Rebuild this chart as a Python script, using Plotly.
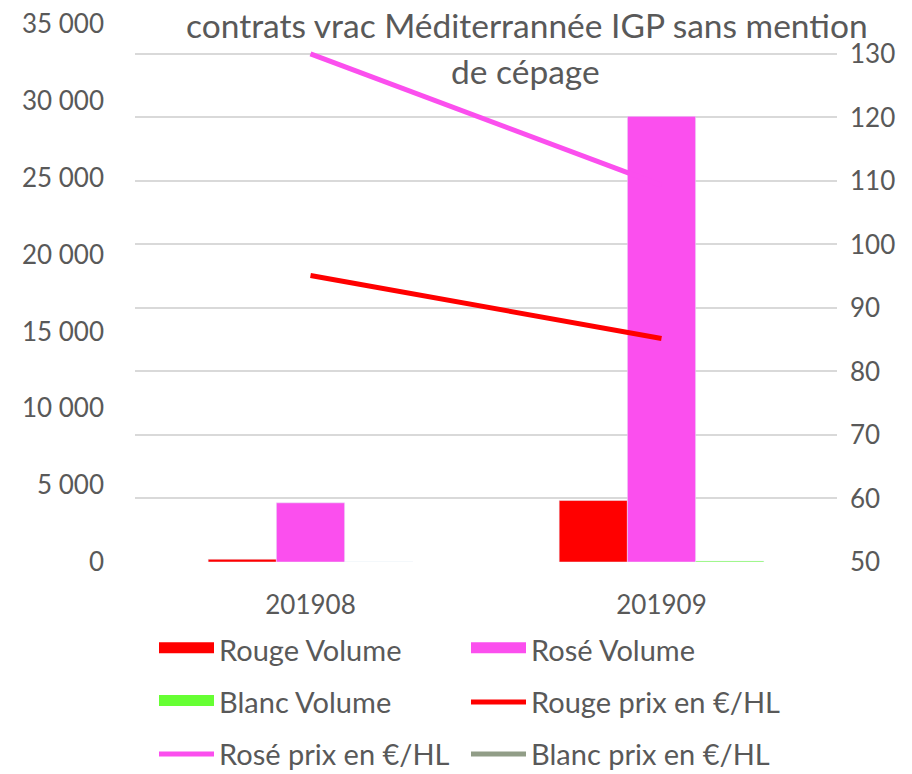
import plotly.graph_objects as go

months = ["201908", "201909"]
rouge_volume = [180, 4000]
rose_volume = [3850, 29000]
blanc_volume = [0, 60]
rouge_prix = [95.1, 85.2]
rose_prix = [130.0, 109.3]
blanc_prix = [None, None]

left_ticks = [0, 5000, 10000, 15000, 20000, 25000, 30000, 35000]
left_labels = ["0", "5 000", "10 000", "15 000", "20 000", "25 000", "30 000", "35 000"]
right_ticks = [50, 60, 70, 80, 90, 100, 110, 120, 130]

RED = "#FF0000"
PINK = "#FB4FEE"
GREEN = "#66FF33"
GREY = "#919D87"
TXT = "#595959"
FONT = "Lato"

# page body has an 8px margin: figure pixel = screen pixel - 8
OFF = 8
W, H = 912 - OFF, 774 - OFF

fig = go.Figure()
fig.add_trace(go.Bar(x=months, y=rouge_volume, name="Rouge Volume", marker_color=RED, showlegend=False))
fig.add_trace(go.Bar(x=months, y=rose_volume, name="Rosé Volume", marker_color=PINK, showlegend=False))
fig.add_trace(go.Bar(x=months, y=blanc_volume, name="Blanc Volume", marker_color=GREEN, showlegend=False))
fig.add_trace(go.Scatter(x=months, y=rouge_prix, name="Rouge prix en €/HL", mode="lines",
                         line=dict(color=RED, width=5), yaxis="y2", showlegend=False))
fig.add_trace(go.Scatter(x=months, y=rose_prix, name="Rosé prix en €/HL", mode="lines",
                         line=dict(color=PINK, width=5), yaxis="y2", showlegend=False))
fig.add_trace(go.Scatter(x=months, y=blanc_prix, name="Blanc prix en €/HL", mode="lines",
                         line=dict(color=GREY, width=5), yaxis="y2", showlegend=False))

# legend proxies (bars get a thick block swatch, lines a thin one), one legend box per entry
legend_items = [
    ("Rouge Volume", RED, True),
    ("Rosé Volume", PINK, True),
    ("Blanc Volume", GREEN, True),
    ("Rouge prix en €/HL", RED, False),
    ("Rosé prix en €/HL", PINK, False),
    ("Blanc prix en €/HL", GREY, False),
]

top_px = 23.5 - OFF
bot_px = 562.5 - OFF
plot_h = bot_px - top_px
plot_l, plot_r = 135, 837

def ly(screen_px):
    return (bot_px - (screen_px - OFF)) / plot_h

def lx(screen_px):
    return (screen_px - plot_l) / (plot_r - plot_l)

col_x = [154, 466]
row_y = [650, 703, 755]

legend_layout = {}
for i, (name, color, block) in enumerate(legend_items):
    key = "legend" if i == 0 else f"legend{i + 1}"
    if block:
        tr = go.Scatter(x=[None], y=[None], name=name, mode="lines", fill="toself",
                        fillcolor=color, line=dict(color=color, width=12), legend=key, hoverinfo="skip")
    else:
        tr = go.Scatter(x=[None], y=[None], name=name, mode="lines",
                        line=dict(color=color, width=5), legend=key, hoverinfo="skip")
    fig.add_trace(tr)
    legend_layout[key] = dict(orientation="h", x=lx(col_x[i % 2]), y=ly(row_y[i // 2]),
                              xanchor="left", yanchor="middle",
                              font=dict(family=FONT, size=29, color=TXT),
                              itemwidth=55, bgcolor="rgba(0,0,0,0)")

fig.update_layout(
    width=W, height=H,
    margin=dict(l=plot_l - OFF, r=W - (plot_r - OFF), t=top_px, b=H - bot_px, pad=0, autoexpand=False),
    paper_bgcolor="white", plot_bgcolor="white",
    separators=", ",
    barmode="group", bargap=0.417, bargroupgap=0,
    font=dict(family=FONT, color=TXT),
    xaxis=dict(type="category", showgrid=False, showline=False, ticks="",
               tickfont=dict(family=FONT, size=26, color=TXT), ticklabelstandoff=25),
    yaxis=dict(range=[0, 35010], tickvals=left_ticks, ticktext=left_labels, showgrid=False,
               zeroline=False, showline=False, ticks="", ticklabeloverflow="allow",
               tickfont=dict(family=FONT, size=26, color=TXT), ticklabelstandoff=30),
    yaxis2=dict(range=[50, 130 + (562.5 - 23.5) / (562.5 - 53.5) * 80 - 80], overlaying="y", side="right",
                tickvals=right_ticks, showgrid=True, gridcolor="#D9D9D9", gridwidth=1.5,
                zeroline=False, showline=False, ticks="", ticklabeloverflow="allow",
                tickfont=dict(family=FONT, size=26, color=TXT), ticklabelstandoff=12),
    showlegend=True,
    annotations=[
        dict(text="contrats vrac Méditerrannée IGP sans mention", xref="paper", yref="paper",
             x=lx(527), y=ly(25), xanchor="center", yanchor="middle", borderpad=0,
             showarrow=False, font=dict(family=FONT, size=33.5, color=TXT)),
        dict(text="de cépage", xref="paper", yref="paper",
             x=lx(525), y=ly(71), xanchor="center", yanchor="middle", borderpad=0,
             showarrow=False, font=dict(family=FONT, size=33.5, color=TXT)),
    ],
)
fig.update_layout(**legend_layout)

fig.write_html("out.html")
